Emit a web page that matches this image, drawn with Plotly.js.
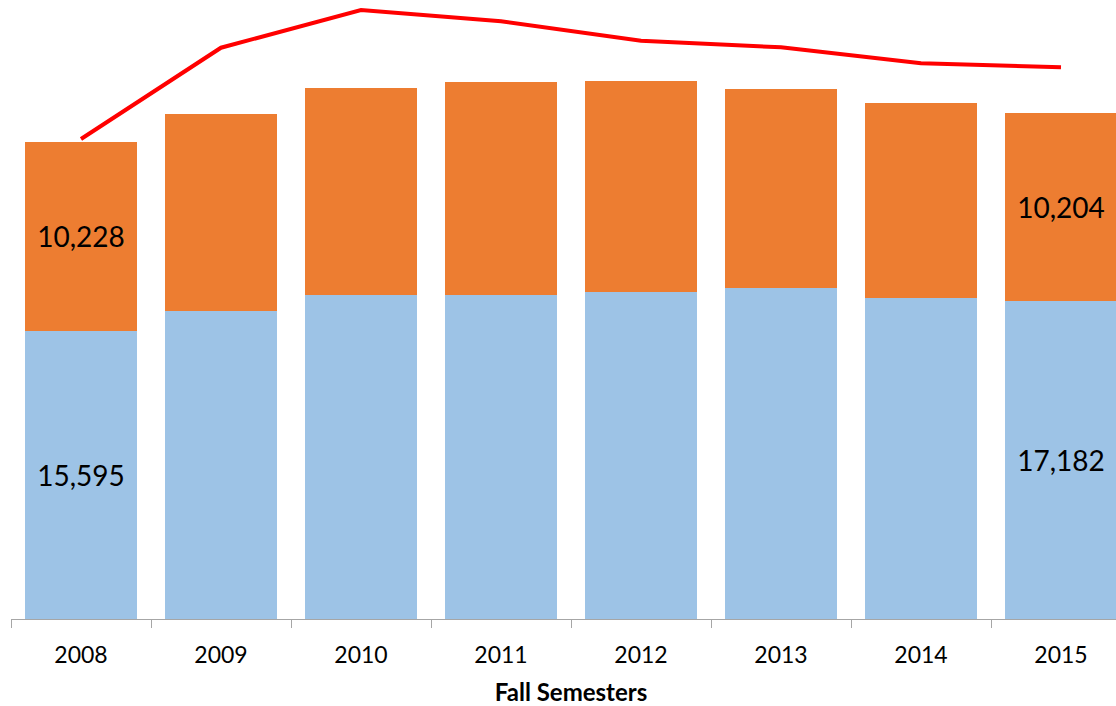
<!DOCTYPE html>
<html>
<head>
<meta charset="utf-8">
<script src="https://cdn.plot.ly/plotly-3.0.1.min.js"></script>
<style>
html, body { margin: 0; padding: 0; overflow: hidden; background: #fff; }
#chart { width: 1131px; height: 706px; }
</style>
</head>
<body>
<div id="chart"></div>
<script>
// Data
const years = ['2008', '2009', '2010', '2011', '2012', '2013', '2014', '2015'];
const blueSeries = [15595, 16650, 17516, 17532, 17679, 17927, 17386, 17182];
const orangeSeries = [10228, 10660, 11234, 11510, 11418, 10736, 10519, 10204];
const lineSeries = [25974, 30915, 32955, 32343, 31294, 30936, 30070, 29854];
const labeledYears = ['2008', '2015'];
const axisTitle = 'Fall Semesters';

const fmt = v => v.toLocaleString('en-US');
const labelsFor = vals => vals.map((v, i) => labeledYears.includes(years[i]) ? fmt(v) : '');

const font = 'Lato, "Open Sans", "Liberation Sans", sans-serif';

const traces = [
  {
    type: 'bar', x: years, y: blueSeries, name: 'Series 1',
    marker: { color: '#9DC3E6' },
    text: labelsFor(blueSeries), textposition: 'inside', insidetextanchor: 'middle',
    textangle: 0, constraintext: 'none',
    textfont: { family: font, size: 28, color: '#000000' },
    hoverinfo: 'skip'
  },
  {
    type: 'bar', x: years, y: orangeSeries, name: 'Series 2',
    marker: { color: '#ED7D31' },
    text: labelsFor(orangeSeries), textposition: 'inside', insidetextanchor: 'middle',
    textangle: 0, constraintext: 'none',
    textfont: { family: font, size: 28, color: '#000000' },
    hoverinfo: 'skip'
  },
  {
    type: 'scatter', mode: 'lines', x: years, y: lineSeries, name: 'Series 3',
    line: { color: '#FF0000', width: 4 },
    cliponaxis: false, hoverinfo: 'skip'
  }
];

const layout = {
  width: 1131, height: 706,
  margin: { l: 11, r: 0, t: 0, b: 87, pad: 0 },
  barmode: 'stack', bargap: 0.2,
  showlegend: false,
  paper_bgcolor: '#ffffff', plot_bgcolor: '#ffffff',
  font: { family: font, color: '#000000' },
  xaxis: {
    type: 'category', range: [-0.5, 7.5],
    showline: true, linecolor: '#A6A6A6', linewidth: 1,
    ticks: 'outside', tickson: 'boundaries', ticklen: 8, tickcolor: '#A6A6A6', tickwidth: 1,
    tickfont: { family: font, size: 23, color: '#000000' },
    ticklabelstandoff: 15,
    showgrid: false, zeroline: false,
    title: { text: axisTitle, font: { family: font, size: 24, color: '#000000', weight: 'bold' }, standoff: 19 }
  },
  yaxis: {
    range: [0, 33496],
    showgrid: false, zeroline: false, showline: false, showticklabels: false, ticks: ''
  }
};

Plotly.newPlot('chart', traces, layout, { displayModeBar: false, staticPlot: true });
</script>
</body>
</html>
